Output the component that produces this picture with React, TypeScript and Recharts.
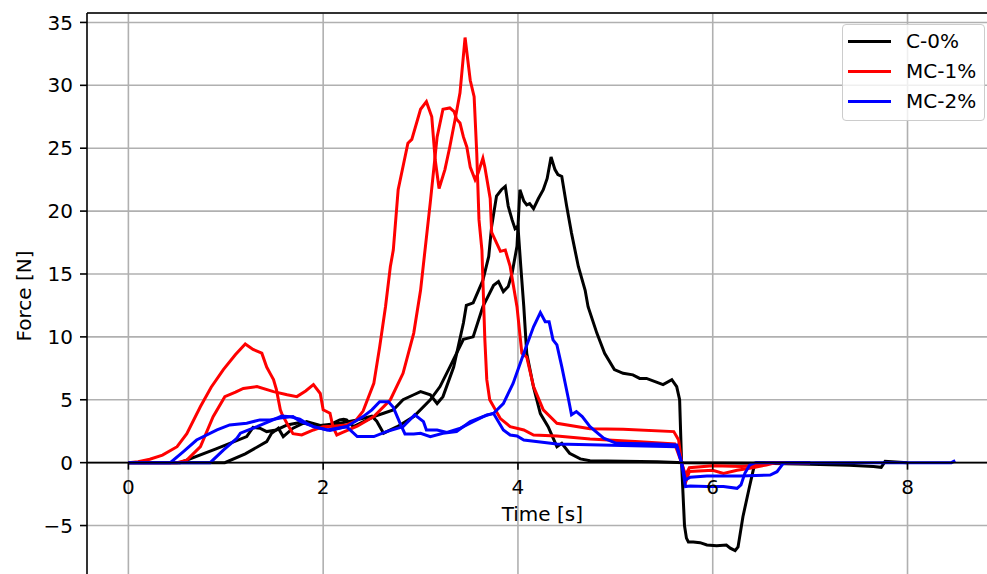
import React from "react";
import {
  LineChart,
  Line,
  XAxis,
  YAxis,
  CartesianGrid,
  ReferenceLine,
  ReferenceDot,
  Legend,
} from "recharts";

const FONT = "'DejaVu Sans', sans-serif";

const xTicks = [0, 2, 4, 6, 8];
const yTicks = [-5, 0, 5, 10, 15, 20, 25, 30, 35];
const xLimits: [number, number] = [-0.425, 8.925];
const yLimits: [number, number] = [-9.25, 35.75];

// time [s], force [N]
const c0A: [number, number][] = [
  [0, 0], [0.53, 0], [0.9, 1.1], [1.215, 2.07], [1.28, 2.8], [1.35, 2.74], [1.42, 2.47],
  [1.52, 2.6], [1.63, 3.0], [1.76, 3.2], [1.9, 3.0], [2.04, 2.9], [2.17, 3.4], [2.21, 3.45],
  [2.24, 3.4], [2.31, 2.86], [2.4, 3.2], [2.52, 3.66], [2.62, 3.93], [2.72, 4.2], [2.82, 5.0],
  [2.93, 5.4], [3.0, 5.65], [3.1, 5.4], [3.17, 4.7], [3.23, 5.25], [3.34, 7.6], [3.44, 11.1],
  [3.47, 12.5], [3.54, 12.7], [3.59, 13.6], [3.64, 14.5], [3.7, 16.4], [3.73, 18.8],
  [3.78, 21.2], [3.83, 21.7], [3.87, 21.96], [3.9, 20.4], [3.94, 19.3], [3.97, 18.6],
  [4.0, 18.8], [4.03, 15.5], [4.06, 12.4], [4.09, 8.7], [4.16, 6.0], [4.23, 3.9],
  [4.31, 2.86], [4.4, 1.27], [4.45, 1.54], [4.53, 0.75], [4.64, 0.3], [4.74, 0.16],
  [5.43, 0.08], [5.7, 0], [6.5, -0.05], [7.0, -0.12], [7.4, -0.2], [7.65, -0.3],
  [7.73, -0.37], [7.77, 0.1], [8.0, 0],
];

const c0B: [number, number][] = [
  [0, 0], [0.99, 0], [1.2, 0.7], [1.42, 1.67], [1.47, 2.34], [1.54, 2.74], [1.59, 2.07],
  [1.69, 2.74], [1.83, 3.26], [1.97, 2.95], [2.17, 3.13], [2.35, 3.4], [2.5, 3.7],
  [2.55, 3.3], [2.62, 2.34], [2.76, 2.86], [2.93, 3.66], [3.1, 5.0], [3.2, 6.05],
  [3.3, 7.6], [3.44, 9.8], [3.54, 10.0], [3.64, 12.4], [3.75, 14.1], [3.8, 14.4],
  [3.85, 13.6], [3.9, 14.0], [3.94, 15.07], [3.99, 17.2], [4.02, 21.7], [4.06, 20.8],
  [4.09, 20.5], [4.12, 20.6], [4.16, 20.2], [4.21, 21.0], [4.26, 21.7], [4.3, 22.6],
  [4.34, 24.3], [4.38, 23.3], [4.41, 22.9], [4.45, 22.75], [4.5, 20.4], [4.55, 18.25],
  [4.62, 15.6], [4.69, 13.7], [4.72, 12.4], [4.81, 10.3], [4.89, 8.7], [4.99, 7.4],
  [5.08, 7.1], [5.18, 6.98], [5.25, 6.7], [5.32, 6.7], [5.49, 6.2], [5.58, 6.6],
  [5.63, 6.05], [5.66, 5.0], [5.68, 0], [5.71, -5.0], [5.73, -6.0], [5.75, -6.3],
  [5.8, -6.3], [5.87, -6.36], [5.94, -6.55], [6.04, -6.6], [6.14, -6.55], [6.18, -6.8],
  [6.23, -7.0], [6.26, -6.7], [6.31, -4.3], [6.37, -2.17], [6.42, -0.45], [6.45, 0],
  [7.0, 0],
];

const mc1A: [number, number][] = [
  [0, 0], [0.1, 0.08], [0.22, 0.27], [0.35, 0.6], [0.5, 1.27], [0.6, 2.3], [0.74, 4.46],
  [0.85, 6.0], [0.975, 7.4], [1.1, 8.6], [1.2, 9.44], [1.28, 9.0], [1.37, 8.7],
  [1.42, 7.6], [1.455, 7.1], [1.49, 6.6], [1.52, 5.8], [1.56, 4.2], [1.575, 3.9],
  [1.63, 3.1], [1.69, 2.3], [1.78, 2.2], [1.9, 2.6], [2.0, 2.86], [2.1, 2.9], [2.24, 3.0],
  [2.33, 3.3], [2.41, 4.1], [2.52, 6.3], [2.58, 9.2], [2.64, 12.4], [2.69, 15.6],
  [2.72, 16.9], [2.77, 21.7], [2.87, 25.4], [2.91, 25.7], [3.0, 28.1], [3.06, 28.7],
  [3.115, 27.5], [3.15, 24.1], [3.19, 21.8], [3.25, 23.3], [3.3, 25.1], [3.355, 27.3],
  [3.405, 29.4], [3.457, 33.8], [3.51, 30.4], [3.55, 29.1], [3.577, 24.6], [3.6, 19.3],
  [3.63, 16.9], [3.66, 9.8], [3.68, 6.6], [3.71, 5.0], [3.82, 3.5], [3.92, 2.86],
  [4.06, 2.6], [4.16, 2.2], [4.4, 2.12], [4.74, 1.88], [5.25, 1.67], [5.61, 1.49],
  [5.68, 0], [5.73, -1.38], [5.76, -0.7], [6.0, -0.6], [6.11, -0.85], [6.25, -0.6],
  [6.38, -0.45], [6.55, -0.18], [6.65, 0], [7.0, 0],
];

const mc1B: [number, number][] = [
  [0, 0], [0.5, 0], [0.6, 0.2], [0.74, 1.27], [0.87, 3.66], [0.99, 5.25], [1.1, 5.6],
  [1.18, 5.9], [1.32, 6.05], [1.49, 5.65], [1.63, 5.4], [1.73, 5.25], [1.82, 5.7],
  [1.9, 6.2], [1.97, 5.5], [2.0, 4.2], [2.07, 3.93], [2.1, 2.86], [2.14, 2.2], [2.2, 2.4],
  [2.35, 2.9], [2.52, 3.66], [2.69, 5.0], [2.82, 7.1], [2.93, 10.3], [3.0, 13.7],
  [3.05, 17.2], [3.1, 20.7], [3.17, 25.9], [3.23, 28.1], [3.3, 28.2], [3.345, 27.9],
  [3.37, 27.3], [3.405, 27.0], [3.44, 25.9], [3.475, 25.1], [3.51, 23.5], [3.56, 22.5],
  [3.59, 23.0], [3.64, 24.2], [3.66, 23.5], [3.715, 21.0], [3.73, 18.3], [3.82, 16.8],
  [3.87, 16.9], [3.92, 15.6], [3.99, 12.4], [4.04, 8.7], [4.09, 8.4], [4.16, 6.05],
  [4.26, 4.2], [4.4, 3.13], [4.74, 2.7], [5.08, 2.65], [5.6, 2.47], [5.65, 1.8],
  [5.68, 0], [5.72, -1.0], [5.76, -0.4], [6.0, -0.25], [6.3, -0.3], [6.49, -0.18],
  [6.55, 0], [7.0, 0],
];

const mc2A: [number, number][] = [
  [0, 0], [0.43, 0], [0.565, 0.88], [0.7, 1.8], [0.91, 2.6], [1.04, 3.0], [1.215, 3.13],
  [1.35, 3.4], [1.455, 3.4], [1.56, 3.55], [1.69, 3.66], [1.76, 3.3], [1.9, 2.86],
  [2.04, 2.6], [2.24, 2.86], [2.35, 2.07], [2.52, 2.07], [2.65, 2.47], [2.82, 2.86],
  [2.94, 3.8], [3.03, 3.26], [3.06, 2.6], [3.17, 2.6], [3.27, 2.4], [3.41, 2.74],
  [3.54, 3.26], [3.68, 3.8], [3.75, 3.9], [3.85, 2.6], [3.92, 2.2], [3.99, 2.12],
  [4.06, 1.8], [4.4, 1.49], [5.63, 1.27], [5.68, 0], [5.72, -1.9], [5.77, -1.86],
  [5.94, -1.9], [6.11, -1.9], [6.25, -2.04], [6.29, -1.77], [6.33, -0.85], [6.38, -0.18],
  [6.44, 0], [8.45, 0], [8.49, 0.16],
];

const mc2B: [number, number][] = [
  [0, 0], [0.84, 0], [0.975, 1.0], [1.11, 1.9], [1.15, 2.34], [1.28, 2.74], [1.32, 2.86],
  [1.455, 3.3], [1.575, 3.7], [1.66, 3.66], [1.76, 3.45], [1.83, 3.13], [1.9, 2.86],
  [2.07, 2.55], [2.24, 2.86], [2.41, 3.66], [2.5, 4.2], [2.58, 4.85], [2.67, 4.85],
  [2.72, 4.4], [2.79, 3.13], [2.84, 2.28], [2.93, 2.28], [3.0, 2.34], [3.1, 2.07],
  [3.23, 2.34], [3.37, 2.47], [3.51, 3.26], [3.64, 3.66], [3.75, 3.93], [3.85, 4.7],
  [3.95, 6.3], [4.06, 8.7], [4.16, 10.8], [4.23, 11.93], [4.28, 11.2], [4.32, 11.2],
  [4.36, 9.76], [4.4, 9.36], [4.45, 7.64], [4.52, 5.0], [4.55, 3.8], [4.6, 4.06],
  [4.66, 3.66], [4.74, 2.86], [4.88, 1.94], [5.01, 1.54], [5.43, 1.49], [5.63, 1.41],
  [5.68, 0], [5.72, -1.38], [5.77, -1.16], [5.94, -1.06], [6.28, -1.06], [6.59, -0.98],
  [6.66, -0.72], [6.72, -0.1], [6.76, 0], [7.0, 0],
];

const legendItems = [
  { name: "C-0%", color: "#000000" },
  { name: "MC-1%", color: "#ff0000" },
  { name: "MC-2%", color: "#0000ff" },
];

const curves = [
  { id: "c0A", data: c0A, color: "#000000" },
  { id: "c0B", data: c0B, color: "#000000" },
  { id: "mc1A", data: mc1A, color: "#ff0000" },
  { id: "mc1B", data: mc1B, color: "#ff0000" },
  { id: "mc2A", data: mc2A, color: "#0000ff" },
  { id: "mc2B", data: mc2B, color: "#0000ff" },
];

const toPoints = (arr: [number, number][]) => arr.map(([t, f]) => ({ t, f }));
const fmtTick = (v: number) => String(v).replace("-", "\u2212");

const LegendBox = () => (
  <div
    style={{
      width: 141,
      height: 94,
      border: "1.6px solid #cccccc",
      borderRadius: 4,
      background: "rgba(255,255,255,0.8)",
      paddingTop: 1,
      boxSizing: "content-box",
      fontFamily: FONT,
      fontSize: 20,
      color: "#000",
    }}
  >
    {legendItems.map((it) => (
      <div key={it.name} style={{ display: "flex", alignItems: "center", height: 30 }}>
        <div style={{ width: 43, height: 3, background: it.color, marginLeft: 5 }} />
        <span style={{ marginLeft: 15, lineHeight: "20px" }}>{it.name}</span>
      </div>
    ))}
  </div>
);

const XTick = ({ cx, cy, value }: any) => (
  <g>
    <line x1={cx} y1={cy} x2={cx} y2={cy + 7} stroke="#000" strokeWidth={1.6} />
    <text x={cx} y={cy + 31} textAnchor="middle" fontSize={20} fontFamily={FONT} fill="#000">
      {fmtTick(value)}
    </text>
  </g>
);

const YLabel = ({ viewBox }: any) => {
  const cy = viewBox.y + viewBox.height / 2;
  return (
    <text
      x={30.5}
      y={cy}
      transform={`rotate(-90, 30.5, ${cy})`}
      textAnchor="middle"
      fontSize={20}
      fontFamily={FONT}
      fill="#000"
    >
      Force [N]
    </text>
  );
};

export default function App() {
  return (
    <div
      style={{
        position: "absolute",
        left: 0,
        top: 0,
        width: 987,
        height: 574,
        overflow: "hidden",
        background: "#fff",
      }}
    >
      <LineChart width={1010} height={600} margin={{ top: 13, right: 12.4, left: 0, bottom: 21 }}>
        <CartesianGrid stroke="#b0b0b0" strokeWidth={1.6} vertical={false} />
        <XAxis
          type="number"
          dataKey="t"
          domain={xLimits}
          ticks={xTicks}
          allowDataOverflow
          height={0}
          axisLine={false}
          tickLine={false}
          tick={false}
        />
        <YAxis
          type="number"
          domain={yLimits}
          ticks={yTicks}
          interval={0}
          allowDataOverflow
          width={87}
          tickSize={7}
          tickMargin={7}
          tickFormatter={fmtTick}
          tick={{ fill: "#000", fontSize: 20, fontFamily: FONT }}
          axisLine={{ stroke: "#000", strokeWidth: 1.6 }}
          tickLine={{ stroke: "#000", strokeWidth: 1.6 }}
          label={{ content: YLabel }}
        />
        {xTicks.map((t) => (
          <ReferenceLine key={`grid-${t}`} x={t} stroke="#b0b0b0" strokeWidth={1.6} />
        ))}
        {curves.map((c) => (
          <Line
            key={c.id}
            data={toPoints(c.data)}
            dataKey="f"
            type="linear"
            stroke={c.color}
            strokeWidth={3}
            dot={false}
            activeDot={false}
            legendType="none"
            isAnimationActive={false}
          />
        ))}
        <ReferenceLine y={0} stroke="#000" strokeWidth={1.6} />
        <ReferenceLine y={yLimits[1]} stroke="#000" strokeWidth={1.6} />
        <ReferenceLine x={xLimits[1]} stroke="#000" strokeWidth={1.6} />
        {xTicks.map((t) => (
          <ReferenceDot
            key={t}
            x={t}
            y={0}
            r={0}
            shape={(p: any) => <XTick cx={p.cx} cy={p.cy} value={t} />}
          />
        ))}
        <ReferenceDot
          x={(xLimits[0] + xLimits[1]) / 2}
          y={0}
          r={0}
          shape={(p: any) => (
            <text x={p.cx} y={p.cy + 58} textAnchor="middle" fontSize={20} fontFamily={FONT} fill="#000">
              Time [s]
            </text>
          )}
        />
        <Legend
          layout="vertical"
          align="center"
          verticalAlign="middle"
          content={() => <LegendBox />}
          wrapperStyle={{ left: 842, top: 24, width: "auto", height: "auto" }}
        />
      </LineChart>
    </div>
  );
}
